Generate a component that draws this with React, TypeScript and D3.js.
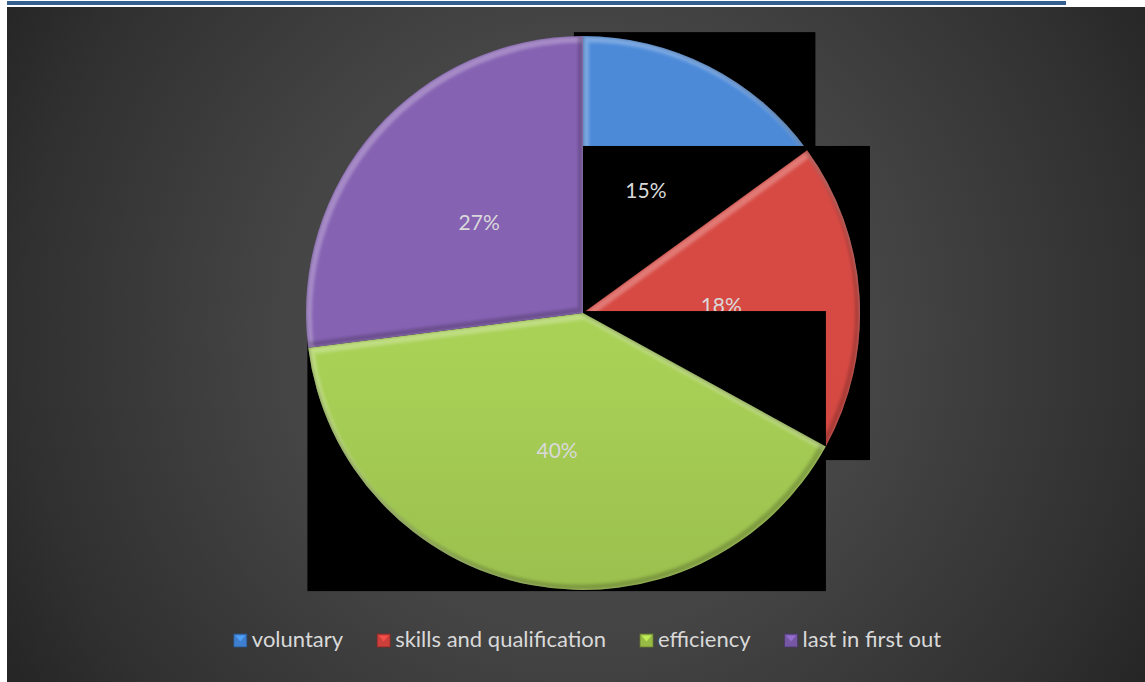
import React, { useEffect, useRef } from "react";
import * as d3 from "d3";

const categories = ["voluntary", "skills and qualification", "efficiency", "last in first out"];
const values = [15, 18, 40, 27];
const percentLabels = ["15%", "18%", "40%", "27%"];
const colorTop = ["#4c8ad8", "#d74a44", "#a9d156", "#8662b3"];
const colorBottom = ["#3f7cc8", "#c63f3a", "#8aaa44", "#674a8d"];
const markerColors = ["#3f7fd0", "#cc3f3a", "#98bb46", "#7557a3"];
// rendering-artifact black boxes, in radius units relative to the pie centre
const artifactBoxes: (number[] | null)[] = [
  [-0.033, -1.014, 0.839, -0.596],
  [0, -0.603, 1.036, 0.531],
  [-0.995, -0.007, 0.877, 1.004],
  null,
];

const W = 1145;
const H = 682;

export default function App() {
  const ref = useRef<SVGSVGElement>(null);

  useEffect(() => {
    const svg = d3.select(ref.current);
    svg.selectAll("*").remove();
    const defs = svg.append("defs");

    const bg = defs.append("radialGradient").attr("id", "bgGrad")
      .attr("gradientUnits", "userSpaceOnUse")
      .attr("cx", 580).attr("cy", 330).attr("r", 660);
    [[0, "#4c4c4c"], [0.45, "#454545"], [0.85, "#303030"], [1, "#262626"]].forEach(([o, c]) =>
      bg.append("stop").attr("offset", o as number).attr("stop-color", c as string));

    const blur = defs.append("filter").attr("id", "soft").attr("x", "-10%").attr("y", "-10%").attr("width", "120%").attr("height", "120%");
    blur.append("feGaussianBlur").attr("stdDeviation", 1.6);

    // top rule
    svg.append("rect").attr("x", 7).attr("y", 1).attr("width", 1059).attr("height", 4).attr("fill", "#365f91");
    // background
    svg.append("rect").attr("x", 7).attr("y", 7).attr("width", W - 7).attr("height", H - 7).attr("fill", "url(#bgGrad)");

    const cx = 583, cy = 313, r = 277;
    const pie = d3.pie<number>().sort(null).value((d) => d);
    const arcs = pie(values);
    const arc = d3.arc<d3.PieArcDatum<number>>().innerRadius(0).outerRadius(r);

    arcs.forEach((a, i) => {
      const g = defs.append("linearGradient").attr("id", `sg${i}`)
        .attr("gradientUnits", "userSpaceOnUse")
        .attr("x1", 0).attr("y1", cy - r).attr("x2", 0).attr("y2", cy + r);
      g.append("stop").attr("offset", 0).attr("stop-color", colorTop[i]);
      g.append("stop").attr("offset", 1).attr("stop-color", colorBottom[i]);
      defs.append("clipPath").attr("id", `clip${i}`).append("path").attr("d", arc(a)!);
    });

    const root = svg.append("g").attr("transform", `translate(${cx},${cy})`);

    const drawBox = (i: number) => {
      const b = artifactBoxes[i];
      if (!b) return;
      root.append("rect")
        .attr("x", b[0] * r).attr("y", b[1] * r)
        .attr("width", (b[2] - b[0]) * r).attr("height", (b[3] - b[1]) * r)
        .attr("fill", "#000");
    };
    const drawSlice = (i: number) => {
      const a = arcs[i];
      const d = arc(a)!;
      const g = root.append("g");
      g.append("path").attr("d", d).attr("fill", `url(#sg${i})`);
      const c = g.append("g").attr("clip-path", `url(#clip${i})`);
      c.append("path").attr("d", d).attr("fill", "none")
        .attr("stroke", "#ffffff").attr("stroke-opacity", 0.26).attr("stroke-width", 7)
        .attr("stroke-linejoin", "round")
        .attr("transform", "translate(2.5,3)").attr("filter", "url(#soft)");
      c.append("path").attr("d", d).attr("fill", "none")
        .attr("stroke", "#000000").attr("stroke-opacity", 0.2).attr("stroke-width", 6)
        .attr("stroke-linejoin", "round")
        .attr("transform", "translate(-2,-2.5)").attr("filter", "url(#soft)");
    };
    const drawLabel = (i: number) => {
      const [x, y] = arc.centroid(arcs[i]);
      root.append("text").attr("x", x).attr("y", y)
        .attr("text-anchor", "middle").attr("dominant-baseline", "central")
        .attr("font-family", "Lato, 'Open Sans', sans-serif").attr("font-size", 21)
        .attr("fill", "#d9d9d9").text(percentLabels[i]);
    };

    drawBox(0); drawSlice(0);
    drawBox(1); drawSlice(1);
    drawLabel(0); drawLabel(1);
    drawBox(2); drawSlice(2); drawLabel(2);
    drawBox(3); drawSlice(3); drawLabel(3);

    // legend
    const leg = svg.append("g");
    const markerSize = 13, textGap = 5, itemGap = 34;
    const items = categories.map((c, i) => {
      const gi = leg.append("g");
      const t = gi.append("text").attr("x", markerSize + textGap).attr("y", 0)
        .attr("font-family", "Lato, 'Open Sans', sans-serif").attr("font-size", 22)
        .attr("fill", "#d9d9d9").text(c);
      const w = (t.node() as SVGTextElement).getComputedTextLength();
      gi.append("rect").attr("x", 0).attr("y", -13).attr("width", markerSize).attr("height", markerSize)
        .attr("fill", markerColors[i]).attr("stroke", d3.color(markerColors[i])!.darker(1.2).toString()).attr("stroke-width", 0.8);
      gi.append("path")
        .attr("d", `M1.5,-11.5 L${markerSize - 1.5},-11.5 L${markerSize / 2},${-13 + markerSize / 2 + 1} Z`)
        .attr("fill", d3.color(markerColors[i])!.brighter(0.8).toString()).attr("opacity", 0.8);
      return { gi, w: markerSize + textGap + w };
    });
    const total = d3.sum(items, (d) => d.w) + itemGap * (items.length - 1);
    let x = 587.5 - total / 2;
    items.forEach((it) => {
      it.gi.attr("transform", `translate(${x},647)`);
      x += it.w + itemGap;
    });
  }, []);

  return (
    <svg ref={ref} width={W} height={H}
      style={{ position: "fixed", left: 0, top: 0, background: "#fff", display: "block" }} />
  );
}
